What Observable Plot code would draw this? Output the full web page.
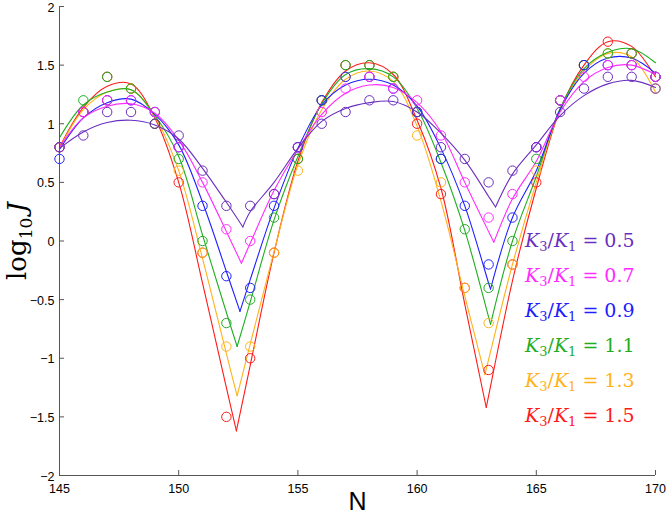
<!DOCTYPE html>
<html><head><meta charset="utf-8">
<script src="https://cdn.jsdelivr.net/npm/d3@7"></script>
<script src="https://cdn.jsdelivr.net/npm/@observablehq/plot@0.6"></script>
<style>
body{margin:0;background:#fff;}
#chart{position:relative;width:666px;height:515px;}
</style></head><body><div id="chart"></div>
<script>
// ---- data ----
const N = [145,146,147,148,149,150,151,152,153,154,155,156,157,158,159,160,161,162,163,164,165,166,167,168,169,170];
const ratioLabels = ["0.5","0.7","0.9","1.1","1.3","1.5"];
const colors = ["#6b2fbf","#ff2bff","#2020ff","#1fae1f","#ffb21a","#ff1a1a"];
const xTicks = [145,150,155,160,165,170];
const yTicks = [-2,-1.5,-1,-0.5,0,0.5,1,1.5,2];
const xDomain = [145,170];
const yDomain = [-2,2];

// measured points (circles)
const obs05 = [0.8,0.9,1.1,1.1,1.0,0.9,0.6,0.3,0.3,0.4,0.8,1.0,1.1,1.2,1.2,1.1,0.8,0.7,0.5,0.6,0.8,1.1,1.3,1.4,1.4,1.3];
const obs07 = [0.8,1.1,1.2,1.2,1.1,0.8,0.5,0.1,0.0,0.4,0.8,1.1,1.3,1.4,1.3,1.2,0.9,0.5,0.2,0.4,0.8,1.2,1.4,1.5,1.5,1.4];
const obs09 = [0.7,1.1,1.2,1.2,1.1,0.8,0.3,-0.3,-0.4,0.3,0.8,1.2,1.4,1.4,1.3,1.1,0.7,0.3,-0.2,0.2,0.8,1.2,1.5,1.5,1.5,1.4];
const obs11 = [0.8,1.2,1.4,1.3,1.0,0.7,0.0,-0.7,-0.5,0.2,0.7,1.2,1.5,1.5,1.4,1.1,0.7,0.1,-0.4,0.0,0.7,1.2,1.5,1.6,1.6,1.4];
const obs13 = [0.8,1.1,1.2,1.3,1.1,0.6,-0.1,-0.9,-0.9,-0.1,0.6,1.1,1.4,1.4,1.4,0.9,0.5,-0.4,-0.7,-0.2,0.6,1.2,1.5,1.6,1.5,1.3];
const obs15 = [0.8,1.1,1.4,1.3,1.0,0.5,-0.1,-1.5,-1.0,-0.1,0.7,1.2,1.5,1.5,1.4,1.0,0.4,-0.4,-1.1,-0.2,0.5,1.2,1.5,1.7,1.6,1.4];

const fit05N = [145,146,147,148,149,150,151,152,152.69,153,154,155,156,157,158,159,160,161,162,163,163.29,164,165,166,167,168,169,170];
const fit05V = [0.79,0.93,1.01,1.03,0.99,0.87,0.62,0.33,0.12,0.25,0.50,0.79,1.02,1.13,1.18,1.19,1.10,0.92,0.69,0.38,0.29,0.57,0.82,1.07,1.24,1.34,1.37,1.31];
const fit07N = [145,146,147,148,149,150,151,152,152.63,153,154,155,156,157,158,159,160,161,162,163,163.22,164,165,166,167,168,169,170];
const fit07V = [0.80,1.05,1.15,1.17,1.09,0.86,0.50,0.08,-0.19,-0.02,0.43,0.78,1.08,1.26,1.33,1.31,1.18,0.93,0.50,0.08,-0.01,0.36,0.68,1.10,1.36,1.48,1.50,1.42];
const fit09N = [145,146,147,148,149,150,151,152,152.57,153,154,155,156,157,158,159,160,161,162,163,163.08,164,165,166,167,168,169,170];
const fit09V = [0.78,1.05,1.18,1.21,1.08,0.82,0.33,-0.26,-0.60,-0.33,0.28,0.79,1.16,1.33,1.38,1.33,1.15,0.79,0.30,-0.36,-0.41,0.20,0.60,1.12,1.43,1.56,1.56,1.43];
const fit11N = [145,146,147,148,149,150,151,152,152.45,153,154,155,156,157,158,159,160,161,162,163,163.08,164,165,166,167,168,169,170];
const fit11V = [0.88,1.16,1.27,1.29,1.07,0.72,0.05,-0.61,-0.90,-0.52,0.18,0.72,1.17,1.42,1.47,1.40,1.13,0.67,0.09,-0.65,-0.71,0.00,0.55,1.13,1.47,1.61,1.64,1.52];
const fit13N = [145,146,147,148,149,150,151,152,152.45,153,154,155,156,157,158,159,160,161,162,162.84,163,164,165,166,167,168,169,170];
const fit13V = [0.79,1.12,1.27,1.29,1.06,0.60,-0.15,-0.96,-1.32,-0.88,-0.09,0.65,1.12,1.38,1.45,1.36,0.98,0.34,-0.47,-1.14,-1.01,-0.20,0.50,1.12,1.45,1.60,1.57,1.27];
const fit15N = [145,146,147,148,149,150,151,152,152.42,153,154,155,156,157,158,159,160,161,162,162.9,163,164,165,166,167,168,169,170];
const fit15V = [0.80,1.14,1.32,1.34,1.05,0.50,-0.36,-1.25,-1.62,-1.06,-0.10,0.68,1.18,1.45,1.52,1.42,1.03,0.45,-0.54,-1.42,-1.32,-0.34,0.45,1.12,1.50,1.70,1.66,1.40];

// ---- build tables ----
const obsAll = [obs05,obs07,obs09,obs11,obs13,obs15];
const fitAll = [[fit05N,fit05V],[fit07N,fit07V],[fit09N,fit09V],[fit11N,fit11V],[fit13N,fit13V],[fit15N,fit15V]];
const order = [5,4,3,2,1,0]; // red drawn first, purple on top

const obsRows = [];
const fitRows = [];
for (const s of order) {
  obsAll[s].forEach((v,i) => obsRows.push({n: N[i], v, k: ratioLabels[s]}));
  const [ns, vs] = fitAll[s];
  let seg = 0;
  for (let i = 0; i < ns.length; i++) {
    fitRows.push({n: ns[i], v: vs[i], k: ratioLabels[s], seg: s*10 + seg});
    if (i > 0 && i < ns.length-1 && vs[i] < vs[i-1] && vs[i] < vs[i+1]) {
      seg++;
      fitRows.push({n: ns[i], v: vs[i], k: ratioLabels[s], seg: s*10 + seg});
    }
  }
}

const W = 666, H = 515, mL = 59, mR = 11, mT = 6, mB = 40;
const fmt = d => String(d).replace("-", "\u2212");

const svg = Plot.plot({
  width: W, height: H,
  marginLeft: mL, marginRight: mR, marginTop: mT, marginBottom: mB,
  style: {fontFamily: "'Liberation Sans', Arial, Helvetica, sans-serif", fontSize: "12.5px", color: "#000", background: "#fff", overflow: "visible"},
  x: {domain: xDomain},
  y: {domain: yDomain},
  color: {type: "ordinal", domain: ratioLabels, range: colors},
  marks: [
    Plot.line(fitRows, {x: "n", y: "v", z: "seg", stroke: "k", curve: "catmull-rom", strokeWidth: 1.1}),
    Plot.dot(obsRows, {x: "n", y: "v", stroke: "k", r: 4.7, strokeWidth: 1, fill: "none"}),
    Plot.ruleX([xDomain[0]], {stroke: "#555", strokeWidth: 1}),
    Plot.ruleY([yDomain[0]], {stroke: "#555", strokeWidth: 1}),
    Plot.tickX(xTicks, {x: d => d, stroke: "#555", insetTop: H - mT - mB - 5}),
    Plot.tickY(yTicks, {y: d => d, stroke: "#555", insetRight: W - mL - mR - 5}),
    Plot.axisX({ticks: xTicks, tickSize: 0, tickPadding: 9, tickFormat: fmt, label: null, fill: "#000"}),
    Plot.axisY({ticks: yTicks, tickSize: 0, tickPadding: 5, dy: 1, tickFormat: fmt, label: null, fill: "#000"}),
    Plot.text(["N"], {frameAnchor: "bottom", dy: 34, fontSize: 25, fill: "#000", text: d => d})
  ]
});

const sel = d3.select(svg);
// y-axis label: log10 J
const yl = sel.append("text")
  .attr("transform", "translate(26,241) rotate(-90)")
  .attr("text-anchor", "middle")
  .attr("font-family", "'DejaVu Serif', 'Liberation Serif', serif")
  .attr("font-size", 26)
  .attr("fill", "#000");
yl.append("tspan").text("log");
yl.append("tspan").attr("font-size", 17).attr("dy", 6).text("10");
yl.append("tspan").attr("dy", -6).text("\u2009");
yl.append("tspan").attr("font-style", "italic").text("J");

// legend
ratioLabels.forEach((lab, i) => {
  const t = sel.append("text")
    .attr("x", 525).attr("y", 246.7 + i*35)
    .attr("text-anchor", "start")
    .attr("font-family", "'DejaVu Serif', 'Liberation Serif', serif")
    .attr("font-size", 19)
    .attr("fill", colors[i]);
  t.append("tspan").attr("font-style", "italic").text("K");
  t.append("tspan").attr("font-size", 13).attr("dy", 4).text("3");
  t.append("tspan").attr("dy", -4).text("/");
  t.append("tspan").attr("font-style", "italic").text("K");
  t.append("tspan").attr("font-size", 13).attr("dy", 4).text("1");
  t.append("tspan").attr("dy", -4).text(" = " + lab);
});

document.getElementById("chart").appendChild(svg);
</script>
</body></html>
